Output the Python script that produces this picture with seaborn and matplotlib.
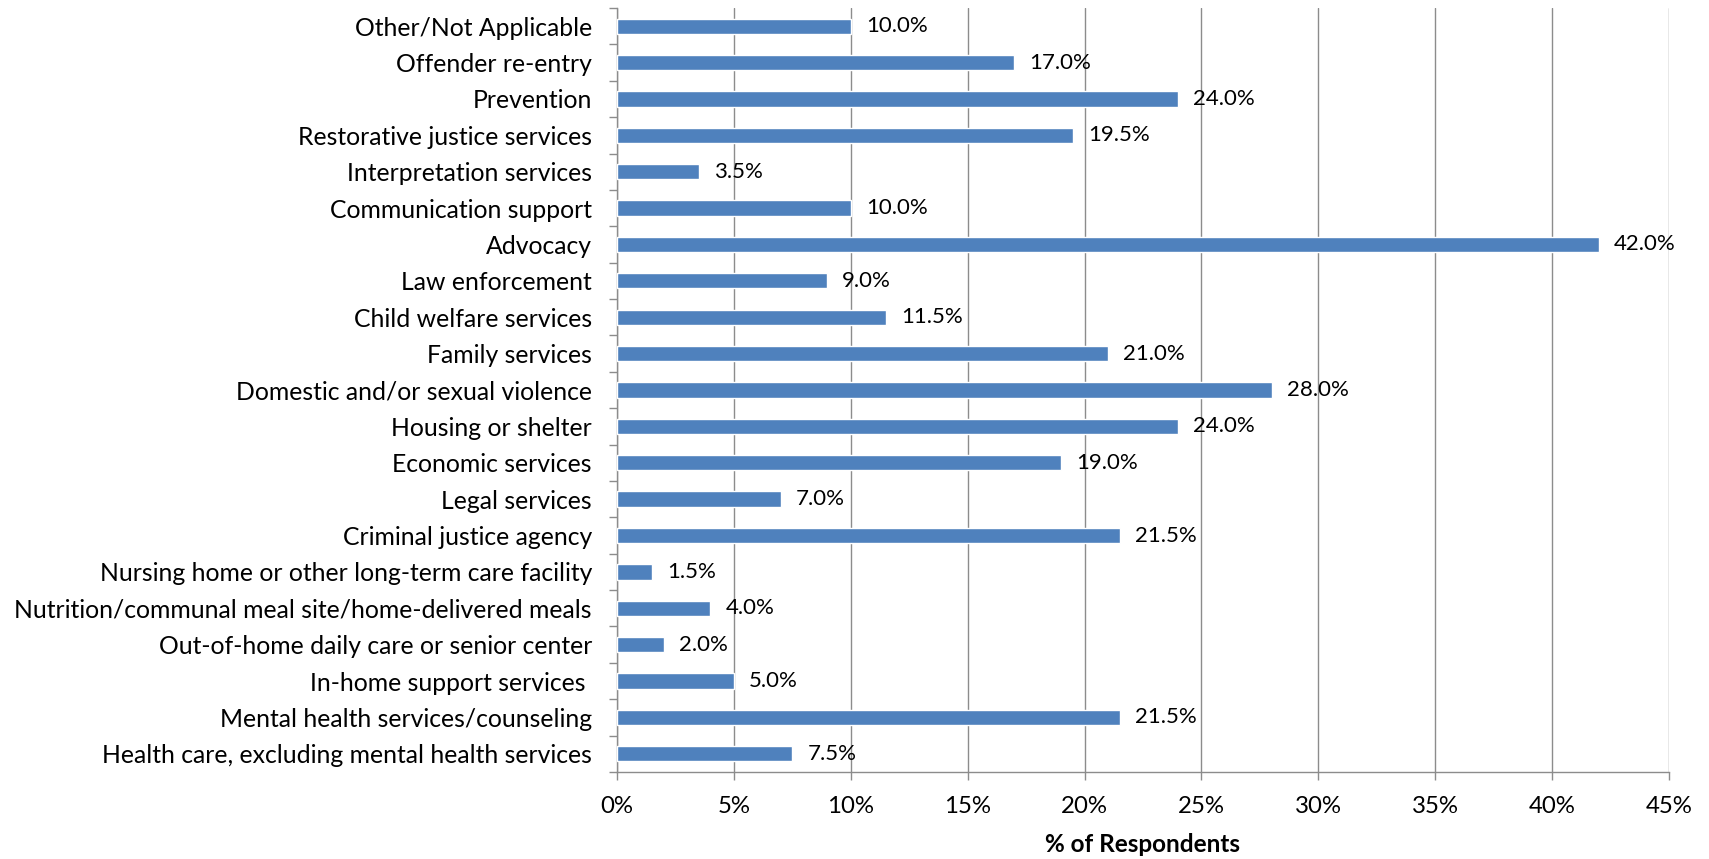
import matplotlib
matplotlib.use("Agg")
import matplotlib.pyplot as plt
import seaborn as sns
import pandas as pd
from matplotlib.ticker import MultipleLocator, FuncFormatter

categories = [
    "Other/Not Applicable",
    "Offender re-entry",
    "Prevention",
    "Restorative justice services",
    "Interpretation services",
    "Communication support",
    "Advocacy",
    "Law enforcement",
    "Child welfare services",
    "Family services",
    "Domestic and/or sexual violence",
    "Housing or shelter",
    "Economic services",
    "Legal services",
    "Criminal justice agency",
    "Nursing home or other long-term care facility",
    "Nutrition/communal meal site/home-delivered meals",
    "Out-of-home daily care or senior center",
    "In-home support services ",
    "Mental health services/counseling",
    "Health care, excluding mental health services",
]
values = [10.0, 17.0, 24.0, 19.5, 3.5, 10.0, 42.0, 9.0, 11.5, 21.0, 28.0,
          24.0, 19.0, 7.0, 21.5, 1.5, 4.0, 2.0, 5.0, 21.5, 7.5]
x_label = "% of Respondents"

df = pd.DataFrame({"category": categories, "value": values})

sns.set_theme(style="white")
plt.rcParams["font.family"] = ["Lato", "DejaVu Sans"]

fig = plt.figure(figsize=(17.09, 8.59), dpi=100)
ax = fig.add_axes([0.361, 0.1013, 0.6156, 0.8894])

sns.barplot(data=df, x="value", y="category", order=categories, color="#4F81BD",
            width=0.42, saturation=1, ax=ax, zorder=3)

ax.set_xlim(0, 45)
ax.set_ylim(len(categories) - 0.5, -0.5)
ax.xaxis.set_major_locator(MultipleLocator(5))
ax.xaxis.set_major_formatter(FuncFormatter(lambda v, p: f"{v:.0f}%"))
ax.grid(axis="x", color="#8C8C8C", linewidth=1.0, zorder=0)
ax.set_axisbelow(True)

for s in ["top", "right"]:
    ax.spines[s].set_visible(False)
for s in ["left", "bottom"]:
    ax.spines[s].set_color("#8C8C8C")
    ax.spines[s].set_linewidth(1.0)

# y ticks at category boundaries (Excel style), labels at centers
ax.set_yticks([i for i in range(len(categories))])
ax.set_yticklabels(categories)
ax.set_yticks([i - 0.5 for i in range(len(categories) + 1)], minor=True)
ax.tick_params(axis="y", which="major", length=0, pad=18, labelsize=17.8, labelcolor="black")
ax.tick_params(axis="y", which="minor", length=6, color="#8C8C8C", width=1, left=True)
ax.tick_params(axis="x", which="major", length=6, color="#8C8C8C", width=1, bottom=True,
               pad=11, labelsize=17.3, labelcolor="black")

ax.set_ylabel("")
ax.set_xlabel(x_label, fontsize=17.5, fontweight="bold", labelpad=12, color="black")

for i, v in enumerate(values):
    ax.annotate(f"{v:.1f}%", xy=(v, i), xytext=(15, 0), textcoords="offset pixels",
                va="center", ha="left", fontsize=16, color="black")

fig.savefig("out.png", dpi=100)
